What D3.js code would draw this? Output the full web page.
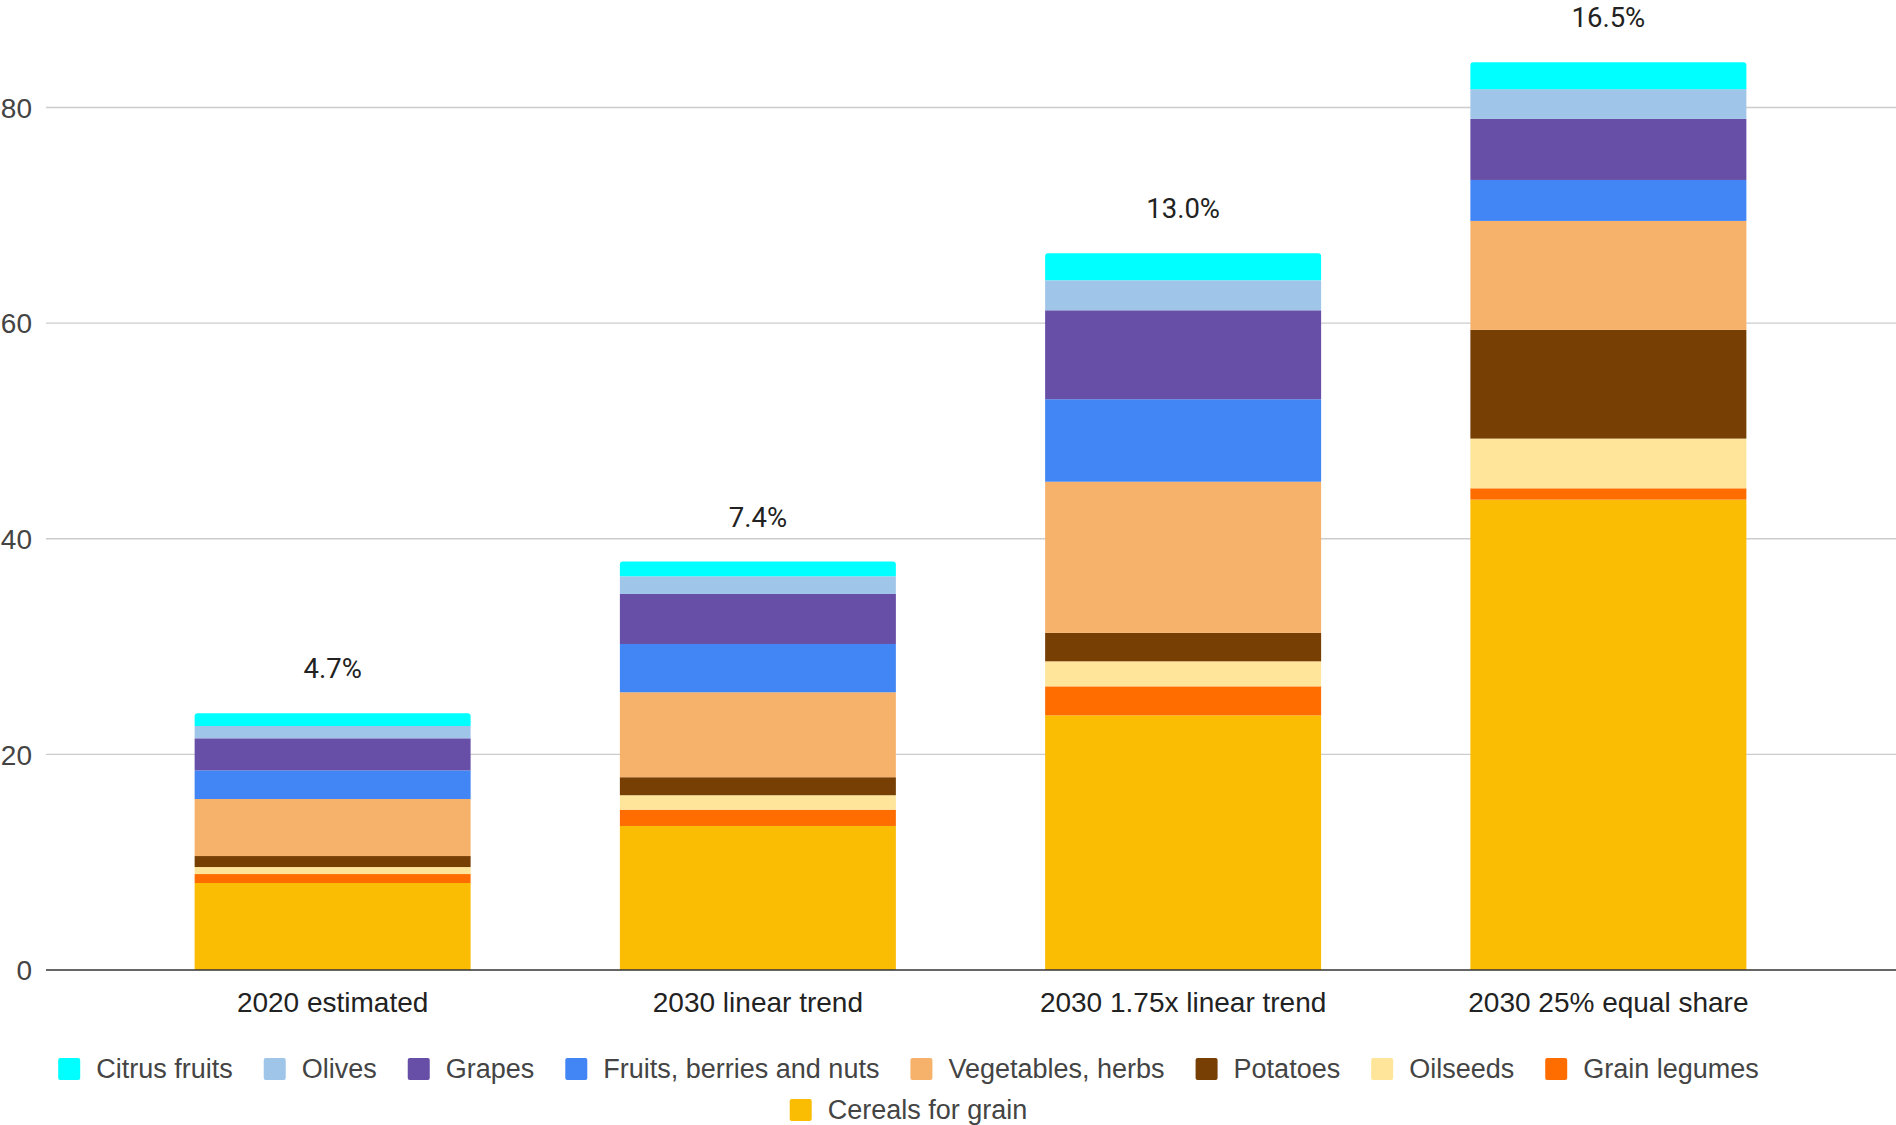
<!DOCTYPE html>
<html>
<head>
<meta charset="utf-8">
<script src="https://cdn.jsdelivr.net/npm/d3@7"></script>
<style>
  html, body { margin: 0; padding: 0; background: #ffffff; }
  svg { display: block; font-family: "Liberation Sans", Arial, sans-serif; }
</style>
</head>
<body>
<svg id="chart" width="1896" height="1125"></svg>
<script>
// Scenario categories along the x axis
const categories = ["2020 estimated", "2030 linear trend", "2030 1.75x linear trend", "2030 25% equal share"];

// Share labels written above each stacked column
const shareLabels = ["4.7%", "7.4%", "13.0%", "16.5%"];

// Crop groups, listed from the bottom of the stack to the top
const seriesKeys = ["Cereals for grain", "Grain legumes", "Oilseeds", "Potatoes", "Vegetables, herbs",
                    "Fruits, berries and nuts", "Grapes", "Olives", "Citrus fruits"];

// Values per crop group, one entry per scenario
const cereals    = [8.07, 13.36, 23.62, 43.63];
const legumes    = [0.83, 1.51, 2.69, 1.05];
const oilseeds   = [0.65, 1.34, 2.32, 4.61];
const potatoes   = [1.02, 1.67, 2.64, 10.08];
const vegetables = [5.29, 7.88, 14.02, 10.11];
const fruits     = [2.66, 4.48, 7.65, 3.80];
const grapes     = [2.97, 4.64, 8.25, 5.66];
const olives     = [1.14, 1.64, 2.78, 2.76];
const citrus     = [1.18, 1.36, 2.52, 2.50];

// Y axis tick values
const yTicks = [0, 20, 40, 60, 80];

// Legend order (left to right)
const legendOrder = ["Citrus fruits", "Olives", "Grapes", "Fruits, berries and nuts", "Vegetables, herbs",
                     "Potatoes", "Oilseeds", "Grain legumes", "Cereals for grain"];

const colors = {
  "Citrus fruits": "#00ffff",
  "Olives": "#9fc5e8",
  "Grapes": "#674ea7",
  "Fruits, berries and nuts": "#4285f4",
  "Vegetables, herbs": "#f6b26b",
  "Potatoes": "#783f04",
  "Oilseeds": "#ffe599",
  "Grain legumes": "#ff6d01",
  "Cereals for grain": "#fbbc04"
};

const valuesByKey = {
  "Cereals for grain": cereals,
  "Grain legumes": legumes,
  "Oilseeds": oilseeds,
  "Potatoes": potatoes,
  "Vegetables, herbs": vegetables,
  "Fruits, berries and nuts": fruits,
  "Grapes": grapes,
  "Olives": olives,
  "Citrus fruits": citrus
};

// Row table for d3.stack
const rows = categories.map((c, i) => {
  const r = { category: c };
  seriesKeys.forEach(k => { r[k] = valuesByKey[k][i]; });
  return r;
});

const svg = d3.select("#chart");
const SANS = "'Liberation Sans', Arial, sans-serif";
const FONT = 28;

const gridLeft = 46, gridRight = 1896;
const x = d3.scaleBand()
  .domain(categories)
  .range([120, 1821])
  .paddingInner(0.351)
  .paddingOuter(0.1755);

const y = d3.scaleLinear()
  .domain([0, 80])
  .range([970, 107.5]);

// Horizontal gridlines
svg.append("g")
  .selectAll("line")
  .data(yTicks.filter(t => t !== 0))
  .join("line")
  .attr("x1", gridLeft).attr("x2", gridRight)
  .attr("y1", d => y(d)).attr("y2", d => y(d))
  .attr("stroke", "#cccccc").attr("stroke-width", 1.4);

// Y axis labels
const yAxis = d3.axisLeft(y).tickValues(yTicks).tickSize(0).tickPadding(0);
const yg = svg.append("g").attr("transform", "translate(32,0)").call(yAxis);
yg.select(".domain").remove();
yg.attr("font-family", null).attr("font-size", null);
yg.selectAll("text")
  .attr("font-size", FONT)
  .attr("font-family", SANS)
  .attr("fill", "#444444")
  .attr("dy", "0.35em");

// Stacked columns
const stacked = d3.stack().keys(seriesKeys)(rows);
const topKey = seriesKeys[seriesKeys.length - 1];
const r = 3;

const layers = svg.append("g")
  .selectAll("g")
  .data(stacked)
  .join("g")
  .attr("fill", d => colors[d.key]);

layers.each(function(layer) {
  const g = d3.select(this);
  layer.forEach(seg => {
    const cat = seg.data.category;
    const x0 = x(cat), w = x.bandwidth();
    const yTop = y(seg[1]), yBot = y(seg[0]);
    if (layer.key === topKey) {
      // top segment with slightly rounded upper corners
      const p = d3.path();
      p.moveTo(x0, yBot);
      p.lineTo(x0, yTop + r);
      p.arcTo(x0, yTop, x0 + r, yTop, r);
      p.lineTo(x0 + w - r, yTop);
      p.arcTo(x0 + w, yTop, x0 + w, yTop + r, r);
      p.lineTo(x0 + w, yBot);
      p.closePath();
      g.append("path").attr("d", p.toString());
    } else {
      g.append("rect")
        .attr("x", x0).attr("width", w)
        .attr("y", yTop).attr("height", yBot - yTop);
    }
  });
});

// Baseline at zero
svg.append("line")
  .attr("x1", gridLeft).attr("x2", gridRight)
  .attr("y1", y(0)).attr("y2", y(0))
  .attr("stroke", "#333333").attr("stroke-width", 1.6);

// X axis labels
const xAxis = d3.axisBottom(x).tickSize(0).tickPadding(0);
const xg = svg.append("g").attr("transform", "translate(0,1012)").call(xAxis);
xg.select(".domain").remove();
xg.attr("font-family", null).attr("font-size", null);
xg.selectAll("text")
  .attr("font-size", FONT)
  .attr("font-family", SANS)
  .attr("fill", "#222222")
  .attr("dy", 0)
  .attr("y", 0);

// Share labels above each column
const totals = rows.map(rw => d3.sum(seriesKeys, k => rw[k]));
svg.append("g")
  .selectAll("text")
  .data(categories)
  .join("text")
  .attr("x", d => x(d) + x.bandwidth() / 2)
  .attr("y", (d, i) => y(totals[i]) - 35)
  .attr("text-anchor", "middle")
  .attr("font-family", "Roboto, sans-serif")
  .attr("font-size", 27.5)
  .attr("fill", "#222222")
  .text((d, i) => shareLabels[i]);

// Legend, wrapped into centred rows
const legendCenter = 908.5;
const sw = 22, gapText = 16, gapItem = 31, maxRowWidth = 1760;
const rowY = [1069, 1110];
const legend = svg.append("g");
const items = legendOrder.map(k => {
  const g = legend.append("g");
  g.append("rect").attr("width", sw).attr("height", sw).attr("rx", 2)
    .attr("y", -sw / 2).attr("fill", colors[k]);
  const t = g.append("text")
    .attr("x", sw + gapText)
    .attr("dy", "0.35em")
    .attr("font-family", SANS)
    .attr("font-size", 27)
    .attr("fill", "#444444")
    .text(k);
  const w = sw + gapText + t.node().getComputedTextLength();
  return { g, w };
});

const legendRows = [[]];
let cur = 0;
items.forEach(it => {
  const add = (legendRows[legendRows.length - 1].length ? gapItem : 0) + it.w;
  if (cur + add > maxRowWidth && legendRows[legendRows.length - 1].length) {
    legendRows.push([it]);
    cur = it.w;
  } else {
    legendRows[legendRows.length - 1].push(it);
    cur += add;
  }
});

legendRows.forEach((row, ri) => {
  const total = d3.sum(row, d => d.w) + gapItem * (row.length - 1);
  let xx = legendCenter - total / 2;
  row.forEach(it => {
    it.g.attr("transform", `translate(${xx},${rowY[ri]})`);
    xx += it.w + gapItem;
  });
});
</script>
</body>
</html>
